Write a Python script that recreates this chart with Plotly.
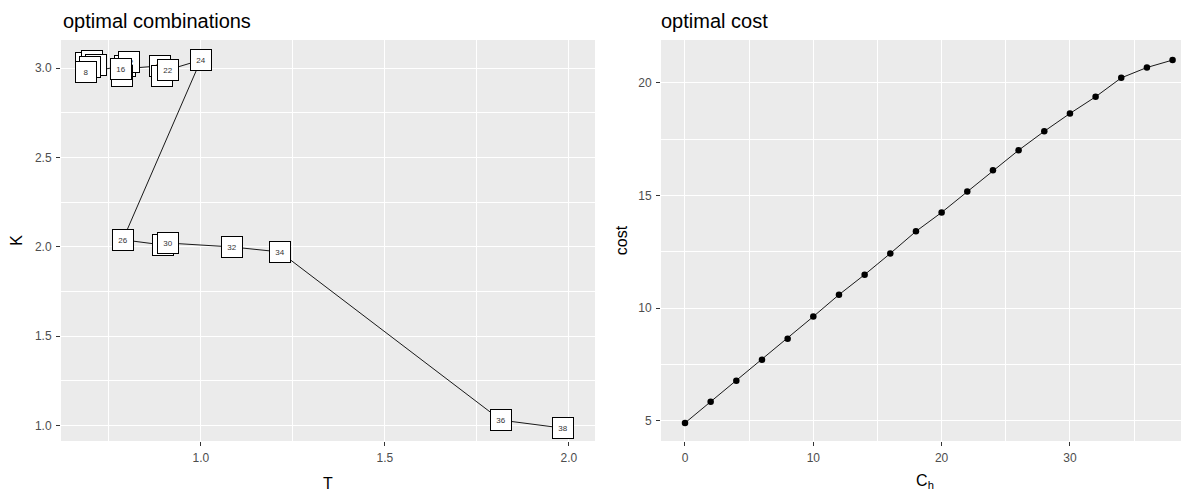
import plotly.graph_objects as go

# ---- data ----
ch_labels = [0, 2, 4, 6, 8, 10, 12, 14, 16, 18, 20, 22, 24, 26, 28, 30, 32, 34, 36, 38]
T_vals = [0.688, 0.704, 0.715, 0.698, 0.688, 0.793, 0.804, 0.785, 0.783, 0.889,
          0.894, 0.910, 1.000, 0.788, 0.897, 0.910, 1.084, 1.215, 1.815, 1.984]
K_vals = [3.030, 3.041, 3.018, 3.007, 2.979, 3.013, 3.035, 2.957, 2.996, 3.013,
          2.957, 2.990, 3.046, 2.040, 2.011, 2.022, 2.000, 1.972, 1.031, 0.986]
cost_vals = [4.91, 5.85, 6.78, 7.72, 8.65, 9.63, 10.60, 11.49, 12.43, 13.41,
             14.25, 15.18, 16.12, 17.01, 17.85, 18.64, 19.38, 20.22, 20.68, 21.01]

# page body has an 8px margin, so the figure is drawn from (8, 8)
OFF = 8
W, H = 1189 - OFF, 493 - OFF
fig = go.Figure()

fig.add_trace(go.Scatter(x=T_vals, y=K_vals, mode="lines",
                         line=dict(color="black", width=0.9),
                         xaxis="x", yaxis="y", hoverinfo="skip"))

for t, k, c in zip(T_vals, K_vals, ch_labels):
    fig.add_annotation(x=t, y=k, xref="x", yref="y", text=str(c), showarrow=False,
                       font=dict(size=8, color="#333333", family="Liberation Sans, Arial"),
                       bgcolor="white", bordercolor="black", borderwidth=1,
                       borderpad=1, width=18, height=18, align="center", valign="middle")

fig.add_trace(go.Scatter(x=ch_labels, y=cost_vals, mode="lines+markers",
                         line=dict(color="black", width=0.9),
                         marker=dict(color="black", size=6.5),
                         xaxis="x2", yaxis="y2", hoverinfo="skip"))

def px_x(p):
    return (p - OFF) / W

def px_y(p):
    return 1 - (p - OFF) / H

ydom = [px_y(441), px_y(40)]
tickfont = dict(size=12, color="#4D4D4D", family="Liberation Sans, Arial")
titlefont = dict(size=16, color="black", family="Liberation Sans, Arial")
common = dict(showgrid=True, gridcolor="white", gridwidth=1.1, zeroline=False,
              ticks="outside", ticklen=4, tickwidth=1, tickcolor="#333333",
              ticklabelstandoff=2,
              tickfont=tickfont, showline=False, automargin=False)

fig.update_layout(
    width=W, height=H, margin=dict(l=0, r=0, t=0, b=0),
    paper_bgcolor="white", plot_bgcolor="#EBEBEB", showlegend=False,
    font=dict(family="Liberation Sans, Arial"),
    xaxis=dict(domain=[px_x(61), px_x(595)], range=[0.62, 2.071], anchor="y",
               tickvals=[1.0, 1.5, 2.0], ticktext=["1.0", "1.5", "2.0"],
               minor=dict(tickvals=[0.75, 1.25, 1.75], showgrid=True, gridcolor="white",
                          gridwidth=0.5, ticks=""),
               title=dict(text="T", font=titlefont, standoff=13), **common),
    yaxis=dict(domain=ydom, range=[0.914, 3.158], anchor="x",
               tickvals=[1.0, 1.5, 2.0, 2.5, 3.0], ticktext=["1.0", "1.5", "2.0", "2.5", "3.0"],
               minor=dict(tickvals=[1.25, 1.75, 2.25, 2.75], showgrid=True, gridcolor="white",
                          gridwidth=0.5, ticks=""),
               title=dict(text="K", font=titlefont, standoff=8), **common),
    xaxis2=dict(domain=[px_x(661), 1.0], range=[-1.87, 39.28], anchor="y2",
                tickvals=[0, 10, 20, 30],
                minor=dict(tickvals=[5, 15, 25, 35], showgrid=True, gridcolor="white",
                           gridwidth=0.5, ticks=""),
                title=dict(text="C<sub>h</sub>", font=titlefont, standoff=10), **common),
    yaxis2=dict(domain=ydom, range=[4.11, 21.9], anchor="x2",
                tickvals=[5, 10, 15, 20],
                minor=dict(tickvals=[7.5, 12.5, 17.5], showgrid=True, gridcolor="white",
                           gridwidth=0.5, ticks=""),
                title=dict(text="cost", font=titlefont, standoff=6), **common),
)

fig.add_annotation(x=px_x(61), y=px_y(21), xref="paper", yref="paper", text="optimal combinations",
                   showarrow=False, xanchor="left", yanchor="middle",
                   font=dict(size=20, color="black", family="Liberation Sans, Arial"))
fig.add_annotation(x=px_x(659), y=px_y(21), xref="paper", yref="paper", text="optimal cost",
                   showarrow=False, xanchor="left", yanchor="middle",
                   font=dict(size=20, color="black", family="Liberation Sans, Arial"))

fig.write_html("out.html")
